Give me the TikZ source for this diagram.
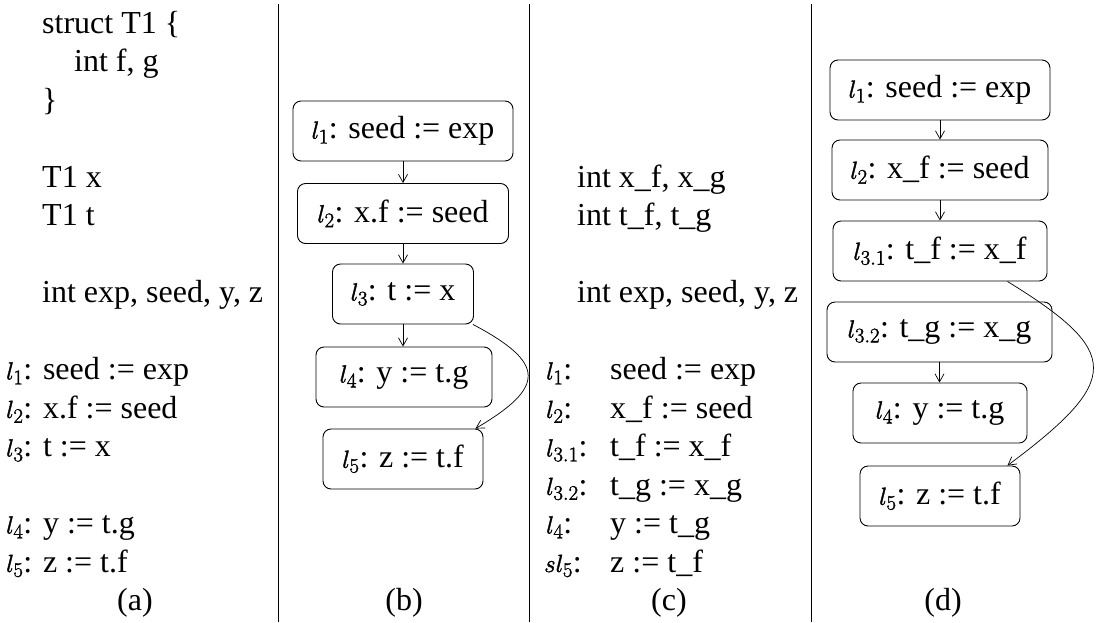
\documentclass[tikz,border=0pt]{standalone}
\usepackage{fontspec}
\setmainfont{Liberation Serif}
\usetikzlibrary{arrows.meta,calc}
\newcommand{\us}{\textunderscore}
\newcommand{\lab}[1]{\special{pdf:literal direct 2 Tr 0.35 w}$#1$\special{pdf:literal direct 0 Tr}}
\begin{document}
\begin{tikzpicture}[x=1pt,y=-1pt,
  txt/.style={anchor=base west,inner sep=0pt,font=\fontsize{32}{38}\selectfont},
  captxt/.style={anchor=base,inner sep=0pt,font=\fontsize{32}{38}\selectfont},
  blk/.style={draw,rounded corners=8pt,minimum height=60pt,inner sep=0pt,line width=0.9pt,font=\fontsize{32}{38}\selectfont},
  flow/.style={-{Straight Barb[length=8pt,width=9pt]},line width=0.7pt},
  sepline/.style={line width=0.9pt}]
\useasboundingbox (0,0) rectangle (1103,622);
% separators
\coordinate (s1t) at (278,4); \coordinate (s1b) at (278,622);
\coordinate (s2t) at (529,4); \coordinate (s2b) at (529,622);
\coordinate (s3t) at (811,4); \coordinate (s3b) at (811,622);
\draw[sepline] (s1t) -- (s1b);
\draw[sepline] (s2t) -- (s2b);
\draw[sepline] (s3t) -- (s3b);
% column (a)
\node[txt] (a0) at (42,33) {struct T1 \{};
\node[txt] (a1) at (74,71.5) {int f, g};
\node[txt] (a2) at (42,110) {\}};
\node[txt] (a4) at (42,187) {T1 x};
\node[txt] (a5) at (42,225.5) {T1 t};
\node[txt] (a7) at (42,302.5) {int exp, seed, y, z};
\node[txt] (a9) at (6,379.5) {\lab{l_1}: seed := exp};
\node[txt] (a10) at (6,418) {\lab{l_2}: x.f := seed};
\node[txt] (a11) at (6,456.5) {\lab{l_3}: t := x};
\node[txt] (a13) at (6,533.5) {\lab{l_4}: y := t.g};
\node[txt] (a14) at (6,572) {\lab{l_5}: z := t.f};
\node[captxt] (capa) at (135,610.5) {(a)};
% column (b)
\node[blk,minimum width=220pt] (b1) at (403,131) {\lab{l_1}: seed := exp};
\node[blk,minimum width=211pt] (b2) at (403,213.5) {\lab{l_2}: x.f := seed};
\node[blk,minimum width=141pt] (b3) at (403,294) {\lab{l_3}: t := x};
\node[blk,minimum width=176pt] (b4) at (404,377) {\lab{l_4}: y := t.g\hspace{12pt}};
\node[blk,minimum width=160pt] (b5) at (403,459) {\lab{l_5}: z := t.f};
\draw[flow] (b1.south) -- (b1.south |- b2.north);
\draw[flow] (b2.south) -- (b2.south |- b3.north);
\draw[flow] (b3.south) -- (b3.south |- b4.north);
\draw[flow] ([xshift=-1pt]b3.south east) .. controls (546,363) and (546,387) .. ([xshift=-8pt]b5.north east);
\node[captxt] (capb) at (404,610.5) {(b)};
% column (c)
\node[txt] (c4) at (577,187) {int x\us f, x\us g};
\node[txt] (c5) at (577,225.5) {int t\us f, t\us g};
\node[txt] (c7) at (577,302.5) {int exp, seed, y, z};
\node[txt] (cl9) at (546,379.5) {\lab{l_1}:};
\node[txt] (ct9) at (610,379.5) {seed := exp};
\node[txt] (cl10) at (546,418) {\lab{l_2}:};
\node[txt] (ct10) at (610,418) {x\us f := seed};
\node[txt] (cl11) at (546,456.5) {\lab{l_{3.1}}:};
\node[txt] (ct11) at (610,456.5) {t\us f := x\us f};
\node[txt] (cl12) at (546,495) {\lab{l_{3.2}}:};
\node[txt] (ct12) at (610,495) {t\us g := x\us g};
\node[txt] (cl13) at (546,533.5) {\lab{l_4}:};
\node[txt] (ct13) at (610,533.5) {y := t\us g};
\node[txt] (cl14) at (544,572) {\lab{sl_5}:};
\node[txt] (ct14) at (610,572) {z := t\us f};
\node[captxt] (capc) at (669,610.5) {(c)};
% column (d)
\node[blk,minimum width=220pt] (d1) at (940,90) {\lab{l_1}: seed := exp};
\node[blk,minimum width=216pt] (d2) at (940,170) {\lab{l_2}: x\us f := seed};
\node[blk,minimum width=214pt] (d3) at (940,251) {\lab{l_{3.1}}: t\us f := x\us f};
\node[blk,minimum width=225pt] (d4) at (939.5,332) {\lab{l_{3.2}}: t\us g := x\us g};
\node[blk,minimum width=174pt] (d5) at (940,413) {\lab{l_4}: y := t.g\hspace{12pt}};
\node[blk,minimum width=160pt] (d6) at (940,496) {\lab{l_5}: z := t.f};
\draw[flow] (d1.south) -- (d1.south |- d2.north);
\draw[flow] (d2.south) -- (d2.south |- d3.north);
\draw[flow] (d4.south) -- (d4.south |- d5.north);
\draw[flow] ([xshift=-40pt]d3.south east) .. controls (1122,352) and (1122,380) .. ([xshift=-13pt]d6.north east);
\node[captxt] (capd) at (943,610.5) {(d)};
\end{tikzpicture}
\end{document}
